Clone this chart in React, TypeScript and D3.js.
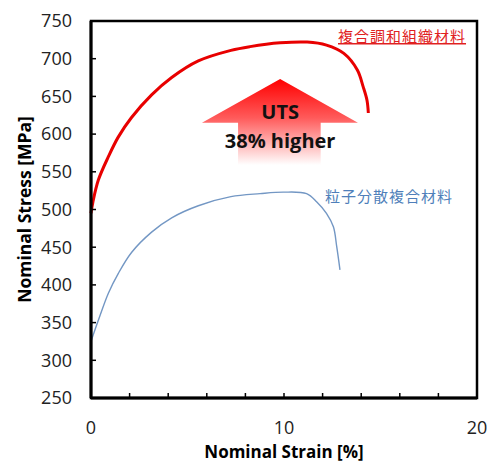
import React, { useEffect, useRef } from 'react';
import * as d3 from 'd3';

// strain [%], stress [MPa]
const redStrain = [0, 0.1, 0.38, 0.9, 1.41, 2.1, 3.14, 4.18, 5.56, 7.25, 8.24, 9.8, 11.2, 12.2, 13.1, 13.8, 14.1, 14.3, 14.37];
const redStress = [495, 510, 539, 570, 596, 622, 652, 675, 697, 711, 716, 721, 722, 718, 707, 685, 663, 645, 628];

const blueStrain = [0, 0.38, 0.9, 1.41, 2.1, 3.14, 4.18, 5.56, 7.25, 8.76, 9.96, 11.17, 11.7, 12.2, 12.56, 12.73, 12.9];
const blueStress = [325, 353, 389, 415, 443, 470, 489, 505, 517, 521, 523, 521, 510, 495, 477, 451, 420];

const yTicks = [250, 300, 350, 400, 450, 500, 550, 600, 650, 700, 750];
const xLabels = [0, 10, 20];
const xMinorTicks = [2, 4, 6, 8, 10, 12, 14, 16, 18];

const redName = '複合調和組織材料';
const blueName = '粒子分散複合材料';

const App = () => {
  const svgRef = useRef<SVGSVGElement>(null);

  useEffect(() => {
    document.body.style.margin = '0';
    const svg = d3.select(svgRef.current);
    svg.selectAll('*').remove();

    const margin = { top: 21, right: 11, bottom: 64, left: 91 };
    const width = 488 - margin.left - margin.right;
    const height = 462 - margin.top - margin.bottom;
    const font = '"Open Sans", sans-serif';

    const x = d3.scaleLinear().domain([0, 20]).range([0, width]);
    const y = d3.scaleLinear().domain([250, 750]).range([height, 0]);

    const defs = svg.append('defs');
    const grad = defs.append('linearGradient')
      .attr('id', 'arrowGrad')
      .attr('x1', 0).attr('y1', 0).attr('x2', 0).attr('y2', 1);
    grad.append('stop').attr('offset', '0%').attr('stop-color', '#ff0000');
    grad.append('stop').attr('offset', '45%').attr('stop-color', '#ff5a5a');
    grad.append('stop').attr('offset', '100%').attr('stop-color', '#ffffff');

    const g = svg.append('g').attr('transform', `translate(${margin.left},${margin.top})`);

    // UTS arrow (in data coordinates)
    const tip = [9.8, 673], headY = 615, headL = 5.75, headR = 13.83, shaftL = 7.62, shaftR = 11.9, bottom = 559;
    const arrowPts: [number, number][] = [
      [x(tip[0]), y(tip[1])],
      [x(headR), y(headY)],
      [x(shaftR), y(headY)],
      [x(shaftR), y(bottom)],
      [x(shaftL), y(bottom)],
      [x(shaftL), y(headY)],
      [x(headL), y(headY)],
    ];
    g.append('path')
      .attr('d', 'M' + arrowPts.map(p => p.join(',')).join('L') + 'Z')
      .attr('fill', 'url(#arrowGrad)');

    g.append('text')
      .attr('x', x(tip[0]))
      .attr('y', 98)
      .attr('text-anchor', 'middle')
      .style('font-family', font)
      .style('font-weight', 'bold')
      .style('font-size', '20px')
      .style('fill', '#111')
      .text('UTS');
    g.append('text')
      .attr('x', x(tip[0]))
      .attr('y', 127)
      .attr('text-anchor', 'middle')
      .style('font-family', font)
      .style('font-weight', 'bold')
      .style('font-size', '20px')
      .style('fill', '#111')
      .text('38% higher');

    g.append('path')
      .attr('d', d3.line<number>().curve(d3.curveCatmullRom)
        .x((_, i) => x(blueStrain[i])).y((_, i) => y(blueStress[i]))(blueStress))
      .attr('fill', 'none')
      .attr('stroke', '#7397c4')
      .attr('stroke-width', 1.4);

    g.append('path')
      .attr('d', d3.line<number>().curve(d3.curveCatmullRom)
        .x((_, i) => x(redStrain[i])).y((_, i) => y(redStress[i]))(redStress))
      .attr('fill', 'none')
      .attr('stroke', '#e80000')
      .attr('stroke-width', 3);

    // frame
    g.append('rect')
      .attr('x', 0).attr('y', 0)
      .attr('width', width).attr('height', height)
      .attr('fill', 'none')
      .attr('stroke', '#000')
      .attr('stroke-width', 2.5);
    g.append('line').attr('x1', 0).attr('x2', 0).attr('y1', 0).attr('y2', height)
      .attr('stroke', '#000').attr('stroke-width', 3);
    g.append('line').attr('x1', 0).attr('x2', width).attr('y1', height).attr('y2', height)
      .attr('stroke', '#000').attr('stroke-width', 3);

    // y axis ticks inward
    const yAxis = g.append('g');
    yTicks.forEach(t => {
      yAxis.append('line')
        .attr('x1', 0).attr('x2', 5)
        .attr('y1', y(t)).attr('y2', y(t))
        .attr('stroke', '#000').attr('stroke-width', 1.5);
      yAxis.append('text')
        .attr('x', -19)
        .attr('y', y(t))
        .attr('dy', '0.35em')
        .attr('text-anchor', 'end')
        .style('font-family', font)
        .style('font-size', '18px')
        .style('fill', '#222')
        .text(t);
    });

    // x axis ticks inward
    const xAxis = g.append('g');
    xMinorTicks.forEach(t => {
      xAxis.append('line')
        .attr('x1', x(t)).attr('x2', x(t))
        .attr('y1', height).attr('y2', height - 5)
        .attr('stroke', '#000').attr('stroke-width', 1.5);
    });
    xLabels.forEach(t => {
      xAxis.append('text')
        .attr('x', x(t))
        .attr('y', height + 36)
        .attr('text-anchor', 'middle')
        .style('font-family', font)
        .style('font-size', '18px')
        .style('fill', '#222')
        .text(t);
    });

    // axis titles
    g.append('text')
      .attr('x', width / 2)
      .attr('y', height + 60)
      .attr('text-anchor', 'middle')
      .style('font-family', font)
      .style('font-weight', 'bold')
      .style('font-size', '17px')
      .text('Nominal Strain [%]');
    g.append('text')
      .attr('transform', `translate(${-60},${height / 2}) rotate(-90)`)
      .attr('text-anchor', 'middle')
      .style('font-family', font)
      .style('font-weight', 'bold')
      .style('font-size', '17.5px')
      .text('Nominal Stress [MPa]');

    // series labels
    g.append('text')
      .attr('x', 247)
      .attr('y', 21)
      .style('font-family', '"Noto Sans CJK JP", sans-serif')
      .style('font-size', '15px')
      .style('letter-spacing', '1px')
      .style('fill', '#e02020')
      .style('text-decoration', 'underline')
      .text(redName);
    g.append('text')
      .attr('x', 234)
      .attr('y', 181)
      .style('font-family', '"Noto Sans CJK JP", sans-serif')
      .style('font-size', '15px')
      .style('letter-spacing', '1px')
      .style('fill', '#4f7fba')
      .text(blueName);
  }, []);

  return <svg ref={svgRef} width={488} height={462} style={{ display: 'block' }} />;
};

export default App;
